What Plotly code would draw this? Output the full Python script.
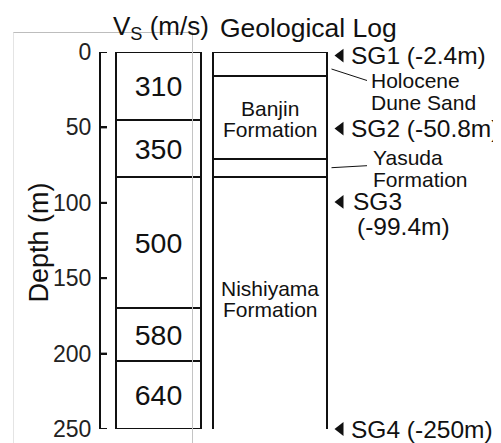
import plotly.graph_objects as go

# ---- data ----
vs_values = [310, 350, 500, 580, 640]          # S-wave velocity (m/s)
vs_top = [0, 45, 83, 170, 205]                 # layer top depth (m)
vs_bottom = [45, 83, 170, 205, 250]            # layer bottom depth (m)

geo_top = [0, 15.7, 71, 83]
geo_bottom = [15.7, 71, 83, 257.8]

sg_names = ["SG1", "SG2", "SG3", "SG4"]
sg_depth = [2.4, 50.8, 99.4, 250]

depth_ticks = [0, 50, 100, 150, 200, 250]

# ---- page geometry ----
W, H = 501, 443
OFF = 8                        # browser body margin
TOP_PX = 52                    # screen row of depth 0
BOT_PX = 429                   # screen row of depth 250
SCALE = (BOT_PX - TOP_PX) / float(depth_ticks[-1])   # px per metre
AXIS_X = 101                   # screen column of the depth axis
TICK_LEN = 6


def d(py):
    """screen row -> depth value"""
    return (py - TOP_PX) / SCALE


def px(x):
    """screen column -> paper x"""
    return (x - OFF) / W


def py_(y):
    """screen row -> paper y"""
    return 1 - (y - OFF) / H


FONT = "Liberation Sans, Arial, sans-serif"
INK = "#111111"

fig = go.Figure()

# Vs column
fig.add_trace(go.Bar(
    x=[158.3] * len(vs_values),
    base=vs_top,
    y=[b - t for t, b in zip(vs_top, vs_bottom)],
    width=85.3,
    marker=dict(color="white", line=dict(color=INK, width=2)),
    text=[str(v) for v in vs_values],
    textposition="inside",
    insidetextanchor="middle",
    constraintext="none",
    textangle=0,
    textfont=dict(family=FONT, size=28.5, color=INK),
    cliponaxis=False,
    hoverinfo="skip",
    showlegend=False,
))

# Geological log column (extends a little below 250 m)
fig.add_trace(go.Bar(
    x=[270.3] * len(geo_top),
    base=geo_top,
    y=[b - t for t, b in zip(geo_top, geo_bottom)],
    width=114,
    marker=dict(color="white", line=dict(color=INK, width=2)),
    cliponaxis=False,
    hoverinfo="skip",
    showlegend=False,
))

# inward tick stubs on the depth axis
tick_x, tick_y = [], []
for t in depth_ticks:
    tick_x += [AXIS_X, AXIS_X + TICK_LEN, None]
    tick_y += [t, t, None]
fig.add_trace(go.Scatter(
    x=tick_x, y=tick_y, mode="lines",
    line=dict(color=INK, width=2),
    cliponaxis=False, hoverinfo="skip", showlegend=False,
))

# sensor markers
fig.add_trace(go.Scatter(
    x=[340.5] * len(sg_depth),
    y=sg_depth,
    mode="markers",
    marker=dict(symbol="triangle-left", size=12, color=INK),
    cliponaxis=False,
    hoverinfo="skip",
    showlegend=False,
))

annotations = []


def label(text, x, y, size, xanchor="left", yref="y", xref="x", **kw):
    annotations.append(dict(text=text, x=x, y=y, xref=xref, yref=yref,
                            xanchor=xanchor, yanchor="middle", showarrow=False,
                            font=dict(family=FONT, size=size, color=INK), **kw))


# sensor labels
for name, dep in zip(sg_names, sg_depth):
    if name == "SG3":
        label(name, 351, dep, 24.5)
        label(f"(-{dep:g}m)", 355, dep + d(226.7) - d(201.7), 24.5)
    else:
        label(f"{name} (-{dep:g}m)", 349, dep, 24.5)

# layer labels
label("Holocene", 369, d(81), 21)
label("Dune Sand", 369, d(103), 21)
label("Banjin", 270.3, d(109), 21, xanchor="center")
label("Formation", 270.3, d(130), 21, xanchor="center")
label("Yasuda", 371, d(157), 21)
label("Formation", 371, d(179), 21)
label("Nishiyama", 270.3, d(288), 21, xanchor="center")
label("Formation", 270.3, d(309.5), 21, xanchor="center")

# titles
label("V<sub>S</sub> (m/s)", px(161), py_(27.5), 26, xanchor="center", xref="paper", yref="paper")
label("Geological Log", px(308), py_(27.5), 26.5, xanchor="center", xref="paper", yref="paper")
label("Depth (m)", px(38.5), py_(243), 27, xanchor="center", xref="paper", yref="paper",
      textangle=-90)

shapes = [
    # leader lines
    dict(type="line", xref="x", yref="y", x0=331.5, x1=367, y0=d(69), y1=d(80.5),
         line=dict(color=INK, width=1)),
    dict(type="line", xref="x", yref="y", x0=331.5, x1=367, y0=d(167.7), y1=d(165.7),
         line=dict(color=INK, width=1)),
    # faint frame
    dict(type="line", xref="paper", yref="paper", x0=px(13), x1=px(193),
         y0=py_(32.5), y1=py_(32.5), line=dict(color="#bdbdbd", width=1), layer="above"),
    dict(type="line", xref="paper", yref="paper", x0=px(13.5), x1=px(13.5),
         y0=-0.05, y1=py_(32.5), line=dict(color="#e4e4e4", width=1), layer="above"),
    dict(type="line", xref="paper", yref="paper", x0=px(192.5), x1=px(192.5),
         y0=-0.05, y1=py_(32.5), line=dict(color="#c4c4c4", width=1), layer="above"),
]

fig.update_layout(
    width=W, height=H,
    margin=dict(l=0, r=0, t=0, b=0, pad=0, autoexpand=False),
    paper_bgcolor="white", plot_bgcolor="rgba(0,0,0,0)",
    barmode="overlay",
    bargap=0,
    showlegend=False,
    annotations=annotations,
    shapes=shapes,
    xaxis=dict(range=[AXIS_X, OFF + W], domain=[px(AXIS_X), 1], visible=False,
               fixedrange=True, automargin=False),
    yaxis=dict(
        range=[depth_ticks[-1], depth_ticks[0]], domain=[py_(BOT_PX), py_(TOP_PX)],
        showline=True, linewidth=2, linecolor=INK,
        showgrid=False, zeroline=False, automargin=False,
        ticks="inside", ticklen=TICK_LEN, tickwidth=2, tickcolor=INK,
        tickvals=depth_ticks,
        ticklabelstandoff=3,
        tickfont=dict(family=FONT, size=23, color="#222222"),
        fixedrange=True,
    ),
)

fig.write_html("out.html")
